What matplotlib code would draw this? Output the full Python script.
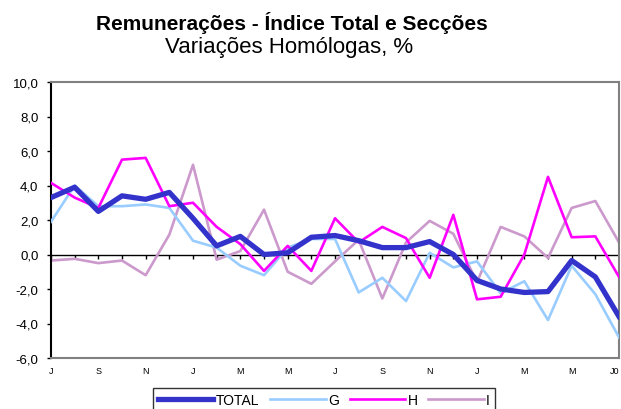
import numpy as np
import matplotlib
matplotlib.use("Agg")
import matplotlib.pyplot as plt

plt.rcParams['font.family'] = ['Liberation Sans', 'DejaVu Sans']

months = ['J', 'A', 'S', 'O', 'N', 'D', 'J', 'F', 'M', 'A', 'M', 'J',
          'J', 'A', 'S', 'O', 'N', 'D', 'J', 'F', 'M', 'A', 'M', 'J', 'J0']

total = [3.3, 3.9, 2.5, 3.4, 3.2, 3.6, 2.1, 0.5, 1.05, 0.0, 0.1, 1.0, 1.1,
         0.8, 0.4, 0.4, 0.75, 0.0, -1.5, -2.0, -2.2, -2.15, -0.35, -1.3, -3.6]
g = [1.9, 4.0, 2.8, 2.8, 2.9, 2.7, 0.8, 0.4, -0.65, -1.2, 0.4, 0.9, 0.9,
     -2.2, -1.35, -2.7, 0.1, -0.75, -0.4, -2.25, -1.55, -3.8, -0.65, -2.3, -4.8]
h = [4.15, 3.3, 2.7, 5.5, 5.6, 2.8, 3.0, 1.6, 0.6, -0.95, 0.5, -0.95, 2.1,
     0.7, 1.6, 0.95, -1.35, 2.3, -2.6, -2.45, 0.0, 4.5, 1.0, 1.05, -1.3]
i_sec = [-0.35, -0.25, -0.5, -0.35, -1.2, 1.15, 5.2, -0.3, 0.2, 2.6, -1.0, -1.7, -0.4,
         0.85, -2.55, 0.7, 1.95, 1.2, -1.6, 1.6, 1.05, -0.2, 2.7, 3.1, 0.7]

x = np.arange(len(months))

fig = plt.figure(figsize=(6.21, 4.10), dpi=100)
ax = fig.add_axes([51 / 621, 1 - 359 / 410, 568 / 621, 276 / 410])

ax.plot(x, total, color='#3333CC', lw=3.8, label='TOTAL', zorder=5)
ax.plot(x, g, color='#99CCFF', lw=1.9, label='G', zorder=3)
ax.plot(x, h, color='#FF00FF', lw=1.9, label='H', zorder=4)
ax.plot(x, i_sec, color='#CC99CC', lw=1.9, label='I', zorder=2)

ax.set_xlim(0, len(months) - 1)
ax.set_ylim(-6, 10)
ax.set_yticks(np.arange(-6, 11, 2))
ax.set_yticklabels([f"{v:.1f}".replace('.', ',') for v in np.arange(-6, 11, 2)], fontsize=9.5)
ax.tick_params(axis='y', direction='out', length=3, width=1, pad=6)

ax.set_xticks(x[::2])
ax.set_xticklabels(months[::2], fontsize=6.5)
ax.tick_params(axis='x', length=0, pad=6)
ax.get_xticklabels()[-1].set_horizontalalignment('right')

# category axis crosses at zero
ax.axhline(0, color='black', lw=1, zorder=1)
ax.plot(x, np.zeros(len(x)), ls='none', marker=3, ms=3, mew=1, color='black', zorder=1)

for side in ['top', 'right', 'bottom']:
    ax.spines[side].set_color('#808080')
    ax.spines[side].set_linewidth(1.5)
ax.spines['left'].set_color('black')
ax.spines['left'].set_linewidth(1.5)

fig.text(0.47, 0.945, 'Remunerações - Índice Total e Secções', ha='center', va='center',
         fontsize=15, fontweight='bold')
fig.text(0.466, 0.884, 'Variações Homólogas, %', ha='center', va='center', fontsize=16)

leg = fig.legend(loc='lower left', bbox_to_anchor=(153 / 621, -0.007), ncol=4,
                 fontsize=10, handlelength=4.0, handletextpad=0.15, columnspacing=0.8,
                 frameon=True, fancybox=False, borderpad=0.35, borderaxespad=0)
leg.get_frame().set_edgecolor('black')
leg.get_frame().set_linewidth(1)

fig.savefig('out.png', dpi=100)
